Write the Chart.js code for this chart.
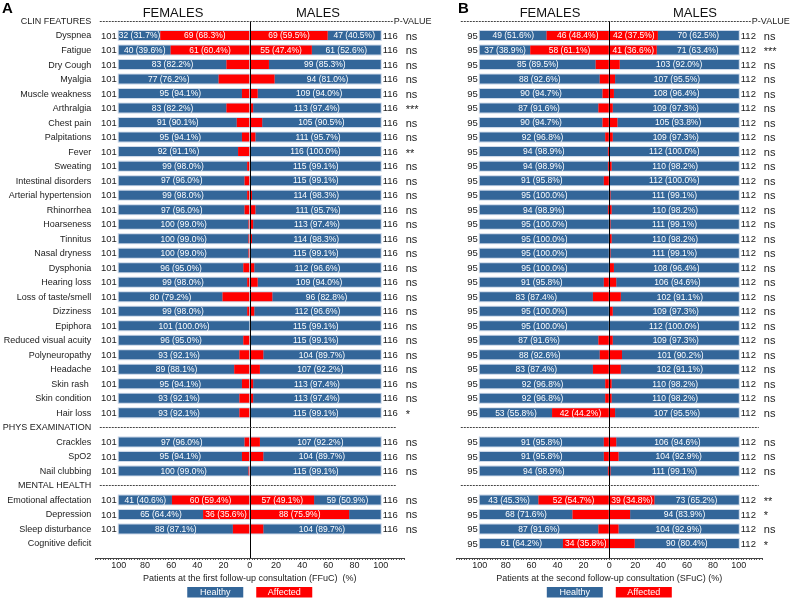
<!DOCTYPE html>
<html><head><meta charset="utf-8">
<script src="https://cdn.jsdelivr.net/npm/chart.js@4.4.0/dist/chart.umd.min.js"></script>
<style>
html,body{margin:0;padding:0;background:#fff;}
#wrap{position:relative;width:792px;height:599px;overflow:hidden;background:#fff;}
canvas{position:absolute;left:0;top:0;}
</style></head><body>
<div id="wrap"><canvas id="ca" width="792" height="599"></canvas><canvas id="cb" width="792" height="599"></canvas></div>
<script>
// ---------- DATA ----------
const rowLabels = ["CLIN FEATURES","Dyspnea","Fatigue","Dry Cough","Myalgia","Muscle weakness","Arthralgia","Chest pain","Palpitations","Fever","Sweating","Intestinal disorders","Arterial hypertension","Rhinorrhea","Hoarseness","Tinnitus","Nasal dryness","Dysphonia","Hearing loss","Loss of taste/smell","Dizziness","Epiphora","Reduced visual acuity","Polyneuropathy","Headache","Skin rash ","Skin condition","Hair loss","PHYS EXAMINATION","Crackles","SpO2","Nail clubbing","MENTAL HEALTH","Emotional affectation","Depression","Sleep disturbance","Cognitive deficit"];
const sectionRows = [0, 28, 32];

const femaleTotalA = 101;
const maleTotalA = 116;
const femaleHealthyA = [null,32,40,83,77,95,83,91,95,92,99,97,99,97,100,100,100,96,99,80,99,101,96,93,89,95,93,93,null,97,95,100,null,41,65,88,null];
const maleHealthyA   = [null,47,61,99,94,109,113,105,111,116,115,115,114,111,113,114,115,112,109,96,112,115,115,104,107,113,113,115,null,107,104,115,null,59,28,104,null];
const pValuesA = ["","ns","ns","ns","ns","ns","***","ns","ns","**","ns","ns","ns","ns","ns","ns","ns","ns","ns","ns","ns","ns","ns","ns","ns","ns","ns","*","","ns","ns","ns","","ns","ns","ns",""];

const femaleTotalB = 95;
const maleTotalB = 112;
const femaleHealthyB = [null,49,37,85,88,90,87,90,92,94,94,91,95,94,95,95,95,95,91,83,95,95,87,88,83,92,92,53,null,91,91,94,null,43,68,87,61];
const maleHealthyB   = [null,70,71,103,107,108,109,105,109,112,110,112,111,110,111,110,111,108,106,102,109,112,109,101,102,110,110,107,null,106,104,111,null,73,94,104,90];
const pValuesB = ["","ns","***","ns","ns","ns","ns","ns","ns","ns","ns","ns","ns","ns","ns","ns","ns","ns","ns","ns","ns","ns","ns","ns","ns","ns","ns","ns","","ns","ns","ns","","**","*","ns","*"];

const axisTickLabels = [-100,-80,-60,-40,-20,0,20,40,60,80,100];
const seriesNames = ["Healthy","Affected"];

// ---------- STYLE ----------
const BLUE = '#336699', RED = '#ff0000', HALO = '#ccd8e8', TXT = '#222';
const FONT = "'Liberation Sans', Arial, Helvetica, sans-serif";
const BAR = 9;
function fnt(s, b){ return (b ? 'bold ' : '') + s + 'px ' + FONT; }
// one extra empty category keeps the axis line a row below the last row
const catLabels = rowLabels.concat(['\u200b']);

function buildDatasets(fH, mH, fN, mN){
  const L = catLabels.length;
  const fa=new Array(L).fill(null), fh=new Array(L).fill(null), ma=new Array(L).fill(null), mh=new Array(L).fill(null);
  const fac=[], fhc=[], mac=[], mhc=[];
  fH.forEach((v,i)=>{
    if(v==null) return;
    const aff = fN - v;
    fac[i]=aff; fhc[i]=v;
    if(aff>0) fa[i] = -aff/fN*100;
    if(v>0) fh[i] = -v/fN*100;
  });
  mH.forEach((v,i)=>{
    if(v==null) return;
    const aff = mN - v;
    mac[i]=aff; mhc[i]=v;
    if(aff>0) ma[i] = aff/mN*100;
    if(v>0) mh[i] = v/mN*100;
  });
  const base = {barThickness:BAR, borderWidth:0, stack:'s', inflateAmount:0};
  return [
    Object.assign({label:'F '+seriesNames[1], data:fa, counts:fac, backgroundColor:RED}, base),
    Object.assign({label:'F '+seriesNames[0], data:fh, counts:fhc, backgroundColor:BLUE}, base),
    Object.assign({label:'M '+seriesNames[1], data:ma, counts:mac, backgroundColor:RED}, base),
    Object.assign({label:'M '+seriesNames[0], data:mh, counts:mhc, backgroundColor:BLUE}, base)
  ];
}

function panelPlugin(p){
  return {
    id:'panel'+p.letter,
    beforeDatasetsDraw(chart){
      const ctx=chart.ctx, xs=chart.scales.x, ys=chart.scales.y;
      const xL=xs.getPixelForValue(-100), xR=xs.getPixelForValue(100);
      ctx.save(); ctx.fillStyle=HALO;
      p.fH.forEach((v,i)=>{ if(v==null) return; const y=ys.getPixelForValue(i); ctx.fillRect(xL-1, y-BAR/2-1, xR-xL+2, BAR+2); });
      ctx.restore();
    },
    afterDatasetsDraw(chart){
      const ctx=chart.ctx, xs=chart.scales.x, ys=chart.scales.y;
      const x0=xs.getPixelForValue(0), xL=xs.getPixelForValue(-100), xR=xs.getPixelForValue(100);
      ctx.save();
      ctx.font=fnt(8.5); ctx.fillStyle='#fff'; ctx.textAlign='center'; ctx.textBaseline='middle';
      chart.data.datasets.forEach((ds,d)=>{
        const meta=chart.getDatasetMeta(d);
        meta.data.forEach((el,j)=>{
          const v=ds.data[j];
          if(v==null || Math.abs(v)<30) return;
          const pr=el.getProps(['x','base','y'],true);
          ctx.fillText(ds.counts[j]+' ('+Math.abs(v).toFixed(1)+'%)', (pr.x+pr.base)/2, pr.y+0.5);
        });
      });
      ctx.strokeStyle='#000'; ctx.lineWidth=1; ctx.setLineDash([]);
      ctx.beginPath(); ctx.moveTo(Math.round(x0)+0.5, ys.getPixelForValue(0)); ctx.lineTo(Math.round(x0)+0.5, chart.chartArea.bottom); ctx.stroke();
      ctx.fillStyle=TXT; ctx.font=fnt(9.5);
      p.fH.forEach((v,i)=>{
        const y=ys.getPixelForValue(i)+0.5;
        if(v!=null){
          ctx.textAlign='right'; ctx.fillText(String(p.fN), xL-2, y);
          ctx.textAlign='left'; ctx.fillText(String(p.mN), xR+2, y);
        }
      });
      ctx.font=fnt(11); ctx.textAlign='left';
      p.pv.forEach((t,i)=>{ if(!t) return; const y=ys.getPixelForValue(i)+(t==='ns'?1:2); ctx.fillText(t, xR+25, y); });
      ctx.restore();
    },
    afterDraw(chart){
      const ctx=chart.ctx, xs=chart.scales.x, ys=chart.scales.y;
      const x0=xs.getPixelForValue(0), xL=xs.getPixelForValue(-100), xR=xs.getPixelForValue(100);
      ctx.save();
      ctx.fillStyle='#000'; ctx.font=fnt(15,true); ctx.textAlign='left'; ctx.textBaseline='alphabetic';
      ctx.fillText(p.letter, p.letterX, 13);
      ctx.font=fnt(13); ctx.textAlign='center'; ctx.textBaseline='middle'; ctx.fillStyle='#111';
      ctx.fillText('FEMALES', p.femX, 13.5); ctx.fillText('MALES', p.malX, 13.5);
      ctx.strokeStyle='#444'; ctx.lineWidth=1; ctx.setLineDash([2,1]);
      sectionRows.forEach(i=>{
        const y=Math.round(ys.getPixelForValue(i))+0.5;
        ctx.beginPath(); ctx.moveTo(xL-19, y); ctx.lineTo(i===0 ? xR+12 : xR+p.sectionExt, y); ctx.stroke();
      });
      ctx.setLineDash([]);
      ctx.fillStyle=TXT; ctx.font=fnt(9); ctx.textAlign='left'; ctx.textBaseline='middle';
      ctx.fillText('P-VALUE', xR+13, ys.getPixelForValue(0)+0.5);
      if(p.rowLabels){
        ctx.textAlign='right'; ctx.font=fnt(9);
        rowLabels.forEach((t,i)=>{ ctx.fillText(t, xs.left-4, ys.getPixelForValue(i)+0.5); });
      }
      ctx.font=fnt(9); ctx.textAlign='center'; ctx.fillStyle=TXT;
      ctx.fillText(p.axisTitle, x0, 579);
      const items=[[seriesNames[0],BLUE,x0-34.5],[seriesNames[1],RED,x0+34.5]];
      items.forEach(([t,c,cx])=>{
        ctx.fillStyle=c; ctx.fillRect(cx-28, 587, 56, 10.5);
        ctx.fillStyle='#fff'; ctx.font=fnt(9); ctx.fillText(t, cx, 592.5);
      });
      ctx.restore();
    }
  };
}

function makeChart(id, p){
  return new Chart(document.getElementById(id), {
    type:'bar',
    data:{labels:catLabels, datasets:buildDatasets(p.fH, p.mH, p.fN, p.mN)},
    options:{
      indexAxis:'y', responsive:false, animation:false, devicePixelRatio:1,
      layout:{padding:{left:p.padL, right:p.padR, top:21, bottom:21}},
      plugins:{legend:{display:false}, tooltip:{enabled:false}},
      scales:{
        y:{type:'category', offset:false, display:false, stacked:true, grid:{offset:false}},
        x:{type:'linear', min:-118, max:118, stacked:true,
           grid:{display:true, drawOnChartArea:false, drawTicks:true, tickLength:2, color:'#555'},
           border:{display:true, color:'#444'},
           ticks:{stepSize:2, maxTicksLimit:400, autoSkip:false, includeBounds:false, padding:0, maxRotation:0, minRotation:0,
                  color:TXT, font:{family:FONT, size:9},
                  callback:(v)=> axisTickLabels.includes(v) ? String(Math.abs(v)) : ''},
           afterFit:(s)=>{ s.height=20; }
        }
      }
    },
    plugins:[panelPlugin(p)]
  });
}

makeChart('ca', {letter:'A', letterX:2, femX:173, malX:318, fH:femaleHealthyA, mH:maleHealthyA, fN:femaleTotalA, mN:maleTotalA, pv:pValuesA,
  rowLabels:true, padL:95.2, padR:387.7, sectionExt:15, axisTitle:'Patients at the first follow-up consultation (FFuC)  (%)'});
makeChart('cb', {letter:'B', letterX:458, femX:550, malX:695, fH:femaleHealthyB, mH:maleHealthyB, fN:femaleTotalB, mN:maleTotalB, pv:pValuesB,
  rowLabels:false, padL:456.5, padR:29.9, sectionExt:20, axisTitle:'Patients at the second follow-up consultation (SFuC) (%)'});
</script>
</body></html>
